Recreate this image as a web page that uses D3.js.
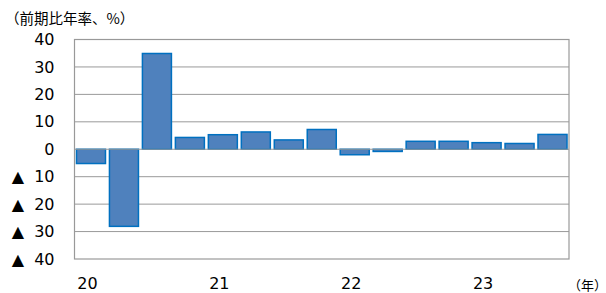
<!DOCTYPE html>
<html><head><meta charset="utf-8">
<script src="https://cdn.jsdelivr.net/npm/d3@7"></script>
<style>body{margin:0;background:#fff;} svg{display:block;}</style>
</head><body>
<svg id="c" width="606" height="293"></svg>
<script>
const quarters = ["20Q1","20Q2","20Q3","20Q4","21Q1","21Q2","21Q3","21Q4","22Q1","22Q2","22Q3","22Q4","23Q1","23Q2","23Q3"];
const values = [-5.2,-28.1,34.9,4.3,5.3,6.3,3.4,7.2,-2.0,-0.8,2.9,2.9,2.4,2.1,5.4];
const yearLabels = ["20","21","22","23"];
const yearFirstQuarter = ["20Q1","21Q1","22Q1","23Q1"];
const yTicks = [40,30,20,10,0,-10,-20,-30,-40];
const yTickLabels = ["40","30","20","10","0","▲  10","▲  20","▲  30","▲  40"];
const yUnit = "（前期比年率、%）";
const xUnit = "（年）";

const svg = d3.select("#c");
const L = 74.5, R = 569, T = 39.5, B = 259;
const x = d3.scaleBand().domain(quarters).range([L, R]).paddingInner(0.12).paddingOuter(0.06);
const y = d3.scaleLinear().domain([-40, 40]).range([B, T]);
const num = "'DejaVu Sans', Verdana, sans-serif";
const cjk = "'Noto Sans CJK JP', sans-serif";

// gridlines
svg.append("g").selectAll("line").data(yTicks.filter(v => v !== 40 && v !== -40 && v !== 0)).join("line")
  .attr("x1", L).attr("x2", R).attr("y1", d => y(d)).attr("y2", d => y(d))
  .attr("stroke", "#999").attr("stroke-width", 1);

// bars
svg.append("g").selectAll("rect").data(values).join("rect")
  .attr("x", (d, i) => x(quarters[i]))
  .attr("width", x.bandwidth())
  .attr("y", d => y(Math.max(0, d)))
  .attr("height", d => Math.abs(y(d) - y(0)))
  .attr("fill", "#4f81bd").attr("stroke", "#0070c0").attr("stroke-width", 1.5);

// zero line
svg.append("line").attr("x1", L).attr("x2", R).attr("y1", y(0)).attr("y2", y(0))
  .attr("stroke", "#999").attr("stroke-width", 1.2);

// frame
svg.append("rect").attr("x", L).attr("y", T).attr("width", R - L).attr("height", B - T)
  .attr("fill", "none").attr("stroke", "#999").attr("stroke-width", 1.2);

// y axis labels
const yAxis = d3.axisLeft(y).tickValues(yTicks).tickSize(0).tickPadding(20)
  .tickFormat((d, i) => yTickLabels[i]);
const ga = svg.append("g").attr("transform", `translate(${L},0)`).call(yAxis);
ga.select(".domain").remove();
ga.selectAll("text").attr("font-family", num).attr("font-size", 16).attr("fill", "#000")
  .style("white-space", "pre");

// x axis labels
const xAxis = d3.axisBottom(x).tickValues(yearFirstQuarter).tickSize(0).tickPadding(19)
  .tickFormat((d, i) => yearLabels[i]);
const gx = svg.append("g").attr("transform", `translate(-3.5,${B})`).call(xAxis);
gx.select(".domain").remove();
gx.selectAll("text").attr("font-family", num).attr("font-size", 16).attr("fill", "#000");

svg.append("text").attr("x", 5).attr("y", 24).attr("font-family", cjk).attr("font-size", 14.5)
  .attr("fill", "#000").text(yUnit);
svg.append("text").attr("x", 568).attr("y", 290).attr("font-family", cjk).attr("font-size", 13)
  .attr("fill", "#000").text(xUnit);
</script>
</body></html>
